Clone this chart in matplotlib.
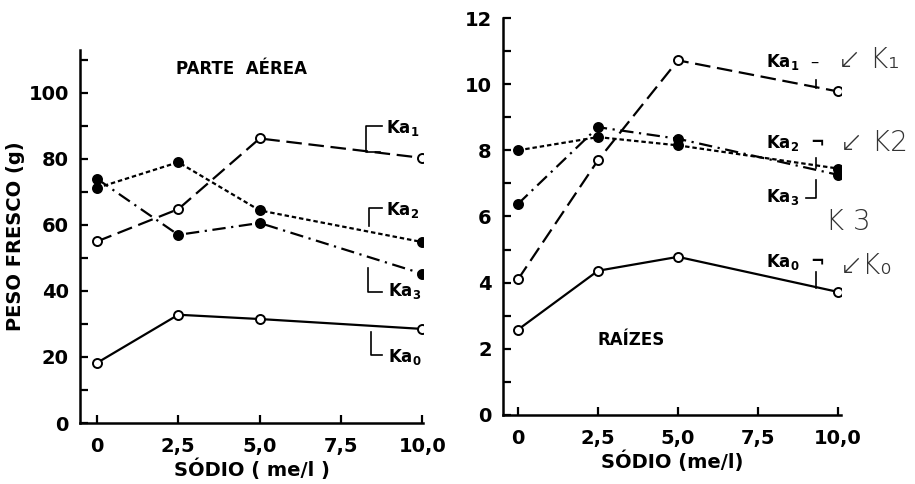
import matplotlib.pyplot as plt
from matplotlib.ticker import MultipleLocator

# sodium levels (me/l)
sodio = [0, 2.5, 5.0, 10.0]

# parte aerea, peso fresco (g)
aerea_ka0 = [18.2, 32.8, 31.5, 28.5]
aerea_ka1 = [55.0, 64.8, 86.2, 80.3]
aerea_ka2 = [71.2, 79.0, 64.4, 54.8]
aerea_ka3 = [74.0, 57.0, 60.6, 45.2]

# raizes, peso fresco (g)
raiz_ka0 = [2.58, 4.36, 4.78, 3.72]
raiz_ka1 = [4.1, 7.7, 10.72, 9.78]
raiz_ka2 = [8.0, 8.4, 8.15, 7.45]
raiz_ka3 = [6.38, 8.7, 8.35, 7.26]

xticks = [0, 2.5, 5.0, 7.5, 10.0]
xticklabels = ["0", "2,5", "5,0", "7,5", "10,0"]

plt.rc('font', size=14, weight='bold')
plt.rc('axes', labelweight='bold')
fig = plt.figure(figsize=(9.15, 4.84), dpi=100)
ax1 = fig.add_axes([0.0874, 0.126, 0.3754, 0.7707])
ax2 = fig.add_axes([0.5497, 0.1426, 0.3696, 0.8202])

styles = {
    'ka0': dict(ls='-', mfc='white'),
    'ka1': dict(ls=(0, (7, 3)), mfc='white'),
    'ka2': dict(ls=(0, (2, 1.3)), mfc='black'),
    'ka3': dict(ls=(0, (6, 2.5, 1, 2.5)), mfc='black'),
}


def draw(ax, series):
    for key, vals in series:
        st = styles[key]
        ax.plot(sodio, vals, color='black', lw=1.6, ls=st['ls'], marker='o',
                ms=6.5, mfc=st['mfc'], mec='black', mew=1.4, zorder=3)
    for side in ['top', 'right']:
        ax.spines[side].set_visible(False)
    for side in ['left', 'bottom']:
        ax.spines[side].set_linewidth(1.8)
    ax.set_xticks(xticks)
    ax.set_xticklabels(xticklabels)
    ax.tick_params(which='both', direction='in', length=6, width=1.6, pad=8)
    ax.tick_params(axis='x', pad=10)


draw(ax1, [('ka1', aerea_ka1), ('ka2', aerea_ka2), ('ka3', aerea_ka3), ('ka0', aerea_ka0)])
ax1.set_xlim(-0.52, 10.03)
ax1.set_ylim(0, 113)
ax1.yaxis.set_major_locator(MultipleLocator(20))
ax1.yaxis.set_minor_locator(MultipleLocator(10))
ax1.set_ylabel('PESO FRESCO (g)', fontsize=14)
ax1.yaxis.set_label_coords(-0.16, 0.5)
ax1.set_xlabel('SÓDIO ( me/l )', fontsize=14, labelpad=2)
ax1.text(0.47, 0.95, 'PARTE  AÉREA', transform=ax1.transAxes, ha='center',
         va='center', fontsize=12)

draw(ax2, [('ka1', raiz_ka1), ('ka2', raiz_ka2), ('ka3', raiz_ka3), ('ka0', raiz_ka0)])
ax2.set_xlim(-0.47, 10.1)
ax2.set_ylim(0, 12)
ax2.yaxis.set_major_locator(MultipleLocator(2))
ax2.yaxis.set_minor_locator(MultipleLocator(1))
ax2.set_xlabel('SÓDIO (me/l)', fontsize=14, labelpad=2)
ax2.text(0.38, 0.19, 'RAÍZES', transform=ax2.transAxes, ha='center',
         va='center', fontsize=12)

# curve labels with little bracket leaders (figure pixels from the top-left)
W, H = 915, 484


def fx(px):
    return px / W


def fy(py):
    return 1 - py / H


def label(px, py, txt):
    fig.text(fx(px), fy(py), txt, ha='left', va='center', fontsize=12)


def leader(pts):
    xs = [fx(p[0]) for p in pts]
    ys = [fy(p[1]) for p in pts]
    fig.add_artist(plt.Line2D(xs, ys, color='black', lw=1.2))


label(386, 128, 'Ka$_1$')
leader([(382, 126), (366, 126), (366, 152), (380, 152)])
label(386, 210, 'Ka$_2$')
leader([(382, 208), (369, 208), (369, 226)])
label(388, 291, 'Ka$_3$')
leader([(382, 292), (368, 292), (368, 268)])
label(388, 357, 'Ka$_0$')
leader([(382, 355), (371, 355), (371, 332)])

label(766, 62, 'Ka$_1$  –')
leader([(816, 80), (816, 88)])
label(766, 143, 'Ka$_2$  ¬')
leader([(816, 158), (816, 168)])
label(766, 197, 'Ka$_3$')
leader([(806, 198), (816, 198), (816, 180)])
label(766, 262, 'Ka$_0$  ¬')
leader([(816, 272), (816, 288)])

# handwritten notes on the scan
for px, py, txt in [(838, 60, '↙ K₁'), (840, 143, '↙ K2'), (826, 222, 'K 3'), (840, 266, '↙K₀')]:
    fig.text(fx(px), fy(py), txt, ha='left', va='center', fontsize=20,
             fontweight='light', family='DejaVu Sans', color='#333333')

fig.savefig('out.png', dpi=100)
